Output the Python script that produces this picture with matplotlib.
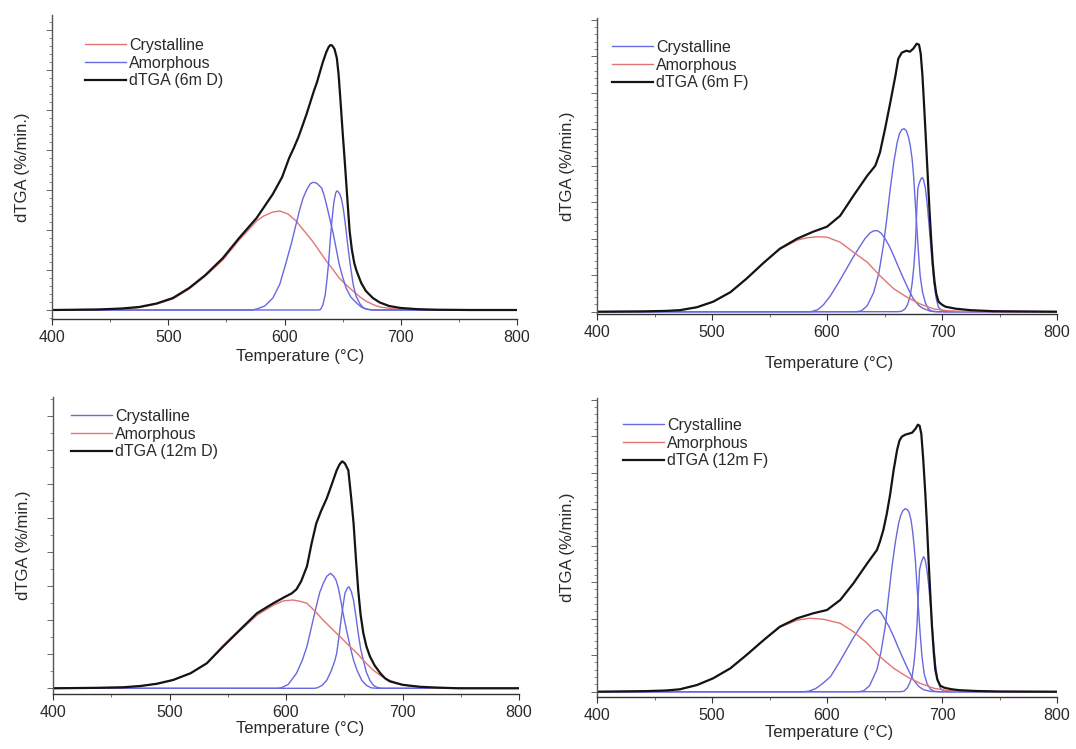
import matplotlib
matplotlib.use("Agg")
import matplotlib.pyplot as plt
from matplotlib.ticker import MultipleLocator, NullFormatter

plt.rcParams["font.family"] = ["Liberation Sans", "DejaVu Sans"]

W, H = 1076, 749

# ---- 6m D ----------------------------------------------------------------
p1_dtga_T = [400, 440, 460, 475, 490, 504, 518, 532, 547, 561, 576, 590, 598, 604, 608, 612,
             616, 619, 622, 625, 628, 630, 633, 636, 638, 639.5, 641, 643, 645, 646.5, 648,
             650, 652, 654, 656, 658, 660, 662, 666, 670, 676, 682, 690, 700, 715, 730, 760, 800]
p1_dtga_y = [0, 0.5, 1.5, 3, 6.5, 12, 22, 35, 52, 72, 92, 116, 133, 152, 162, 173,
             186, 196, 207, 218, 228, 236, 248, 258, 263, 265, 264.5, 261, 252, 236, 212,
             178, 146, 112, 79, 60, 47, 39, 27, 19, 12, 7.5, 4, 2, 0.8, 0.3, 0, 0]
p1_broad_T = [400, 460, 475, 490, 504, 518, 532, 547, 561, 576, 582, 590, 596, 603, 610, 617,
              624, 630, 636, 642, 647, 653, 659, 665, 670, 676, 682, 695, 720, 800]
p1_broad_y = [0, 1, 2.5, 6, 11, 21, 34, 50, 70, 89, 94, 98, 99, 96, 89, 79,
              69, 59, 49, 40, 32, 25, 19, 13, 9, 5.5, 3, 1, 0, 0]
p1_sharp1_T = [400, 572, 576, 583, 590, 596, 601, 606, 610, 613, 616, 619, 622, 624, 626, 628,
               632, 634, 636, 639, 642, 645, 647, 650, 653, 657, 662, 666, 670, 676, 800]
p1_sharp1_y = [0, 0, 1, 4, 12, 26, 46, 67, 86, 100, 112, 120, 126, 127.5, 127.5, 126.5,
               122, 115, 106, 91, 76, 58, 46, 33, 22, 13, 7, 3, 1, 0, 0]
p1_sharp2_T = [400, 629, 631, 633, 635, 636.5, 638, 639.5, 641, 642.5, 644, 645, 646, 647.5,
               649, 650.5, 652, 653.5, 655, 657, 659, 661.5, 665, 668, 672, 676, 800]
p1_sharp2_y = [0, 0, 0.5, 5, 15, 30, 48, 72, 92, 108, 117, 119, 118.5, 116,
               111, 102, 89, 74, 59, 42, 26, 14, 6, 2, 0.5, 0, 0]

# ---- 6m F ----------------------------------------------------------------
p2_dtga_T = [400, 440, 460, 472, 487, 501, 516, 530, 545, 559, 574, 588, 600, 611.5, 623, 635,
             642, 646, 650.5, 655, 659.5, 662, 665, 669, 672, 675, 678, 680, 681.5, 683, 684.5,
             686, 687.5, 689, 690.5, 692, 693.5, 695, 697, 700, 703, 712, 725, 745, 800]
p2_dtga_y = [0, 0.3, 0.8, 1.5, 4.5, 10, 19.5, 33, 49, 63, 73, 80, 85, 96, 116, 136,
             146, 159, 183, 209, 236, 253, 259, 261, 260, 263, 268, 267, 258, 236, 205,
             172, 138, 104, 74, 48, 30, 18, 10, 7, 5, 3, 1.5, 0.5, 0]
p2_broad_T = [400, 440, 460, 472, 487, 501, 516, 530, 545, 559, 574, 583, 592, 600, 611.5, 623,
              635, 646, 658, 669.5, 681, 693, 705, 720, 800]
p2_broad_y = [0, 0.3, 0.8, 1.5, 4.5, 10, 19.5, 33, 49, 62.5, 71.5, 74, 75, 74.5, 69.5, 59.5,
              49.5, 36, 23, 14.5, 7.7, 2.7, 1, 0.2, 0]
p2_sharp1_T = [400, 586, 592, 597, 603, 610, 617, 623, 629, 633, 637.6, 641, 644, 647, 650,
               654, 658, 662, 666.6, 671, 675, 680, 684, 690, 696, 800]
p2_sharp1_y = [0, 0, 2, 7, 16, 29, 43, 55, 66, 73, 79, 81, 81, 78.5, 74,
               66, 56, 45, 33, 22, 13, 6, 3, 0.5, 0, 0]
p2_sharp2_T = [400, 626, 630, 635, 640.5, 645, 649, 652, 655, 658, 661, 663, 665, 667, 669,
               671, 672.4, 674, 675.3, 676.7, 678.2, 679.6, 681, 683, 685.5, 688, 691, 695, 800]
p2_sharp2_y = [0, 0, 1, 6, 19, 38, 66, 93, 123, 149, 169, 178, 182, 183, 181,
               174, 166, 153, 136, 110, 83, 58, 36, 20, 9, 3, 0.5, 0, 0]
p2_sharp3_T = [400, 662, 665, 668, 670, 672.4, 674, 675.5, 676.8, 678, 679, 680, 681, 682,
               683, 684, 685.5, 687, 688.5, 690, 691.5, 693, 695, 697, 700, 703, 800]
p2_sharp3_y = [0, 0, 0.5, 3, 7, 16, 28, 45, 66, 100, 123, 128, 131, 133.5,
               134, 131.5, 124, 109, 90, 69, 48, 29, 13, 4.4, 1, 0, 0]

# ---- 12m D ---------------------------------------------------------------
p3_dtga_T = [400, 440, 460, 475, 489, 503, 518, 532, 546, 560, 575, 589, 600, 605, 609, 613,
             618, 622, 626, 630, 635, 639, 643.5, 646, 648.3, 650.5, 653.5, 656, 658, 660, 662,
             664, 666.4, 669, 672, 676, 681, 685, 689, 700, 715, 730, 748, 800]
p3_dtga_y = [0, 0.5, 1, 2.3, 4.5, 8.3, 15, 25, 42, 58, 75, 85, 92, 95, 99, 107,
             122, 145, 165, 177, 190, 203, 218, 224, 227, 225, 218, 190, 165, 130, 98,
             74, 55, 42, 32, 23, 15, 10, 7, 3.5, 1.5, 0.7, 0, 0]
p3_broad_T = [400, 460, 475, 489, 503, 518, 532, 546, 560, 575, 589, 598, 606, 612, 618, 625,
              632, 639, 646, 653, 661, 668, 675, 682, 689, 697, 705, 725, 800]
p3_broad_y = [0, 1, 2.3, 4.5, 8.3, 15, 25, 41, 57, 73, 83, 87.5, 88.3, 87, 85, 77,
              68, 60, 52, 44, 35, 26, 18, 12, 8, 4.5, 2.5, 0.5, 0]
p3_sharp1_T = [400, 593, 596, 602, 609, 614, 618, 622, 626, 629, 632, 635, 638.3, 641, 643,
               645, 647, 649, 652, 655, 658, 661, 665, 669, 673, 678, 800]
p3_sharp1_y = [0, 0, 0.5, 4, 15, 28, 42, 62, 82, 96, 105, 112, 115, 112, 108,
               100, 88, 75, 58, 42, 28, 18, 8, 3, 0.5, 0, 0]
p3_sharp2_T = [400, 624, 627, 631, 635, 639, 642, 643.5, 645.5, 648, 650.6, 652.5, 654, 656,
               658, 660, 662, 664, 666.4, 669, 672, 675, 678, 682, 800]
p3_sharp2_y = [0, 0, 0.5, 3, 8, 18, 28, 35, 52, 75, 95, 100, 101.6, 97,
               88, 72, 55, 40, 28, 16, 8, 3, 1, 0, 0]

# ---- 12m F ---------------------------------------------------------------
p4_dtga_T = [400, 440, 460, 472, 487, 501, 516, 530, 545, 559, 574, 588, 600, 611.5, 623, 635,
             643.4, 646, 649, 652, 655, 658, 661, 663, 665, 668, 671, 674, 677, 679, 680.5,
             682, 683.7, 685.5, 687, 688.3, 689.8, 691.3, 692.8, 694.2, 696, 698.5, 702, 708,
             715, 730, 750, 800]
p4_dtga_y = [0, 0.5, 1.2, 2.4, 6.7, 13.4, 23.4, 36.7, 51.7, 65, 73.4, 78.4, 81.7, 91.7, 108.4, 128.4,
             141.7, 150, 161.7, 178, 198, 222, 242, 251, 255, 257, 258, 259, 263, 267, 266,
             258, 232, 198, 165, 132, 98, 65, 40, 22, 12, 6, 4, 2.5,
             1.5, 0.7, 0.2, 0]
p4_broad_T = [400, 440, 460, 472, 487, 501, 516, 530, 545, 559, 574, 585, 597, 611.5, 623, 635,
              646, 658, 669.5, 681, 693, 705, 720, 800]
p4_broad_y = [0, 0.5, 1.2, 2.4, 6.7, 13.4, 23.4, 36.7, 51.7, 64.5, 71.5, 73.5, 72.4, 68.4, 60, 48.4,
              35, 23.4, 15, 8.4, 3.4, 1, 0.2, 0]
p4_sharp1_T = [400, 580, 584, 590, 596, 603, 610, 617, 623, 629, 633, 637.6, 641, 644, 647,
               650, 654, 658, 662, 666.6, 671, 675, 680, 684, 690, 696, 800]
p4_sharp1_y = [0, 0, 0.5, 3, 8, 15, 28, 42, 54, 65, 72, 78, 81, 82, 79,
               73, 65, 55, 44, 32, 21, 12, 5, 2, 0.3, 0, 0]
p4_sharp2_T = [400, 628, 632, 637, 643.4, 647, 650.6, 653.5, 656.5, 659.5, 662.2, 664, 666, 668,
               670, 671.5, 673, 674.5, 675.8, 676.8, 678.2, 679.6, 681, 682.6, 684.5, 687, 690,
               693, 697, 800]
p4_sharp2_y = [0, 0, 1, 6, 22, 40, 65, 95, 125, 150, 168, 176, 181, 183,
               182, 179, 172, 160, 145, 132, 107, 82, 58, 35, 18, 8, 2.5,
               0.5, 0, 0]
p4_sharp3_T = [400, 664, 667, 670, 672, 674, 675.8, 677, 678.2, 679.3, 680.5, 681.5, 682.5, 684,
               685, 686, 687.2, 688.3, 689.8, 691.3, 692.8, 694.2, 696, 698.5, 702, 705, 800]
p4_sharp3_y = [0, 0, 0.5, 4, 9, 15, 30, 45, 65, 95, 122, 127, 131, 135,
               133, 128, 119, 108, 89, 68, 47, 28, 13, 3.4, 0.5, 0, 0]

x_ticks = [400, 500, 600, 700, 800]

BLACK = "#141414"
BLUE = "#6868e0"
RED = "#e47474"

fig = plt.figure(figsize=(W / 100, H / 100), dpi=100)
fig.patch.set_facecolor("white")


def make_axes(left, right, top, bottom):
    return fig.add_axes([left / W, 1 - bottom / H, (right - left) / W, (bottom - top) / H])


def style(ax, ylim, ymaj, ymin, ylab_x, xlab_xy):
    ax.set_xlim(400, 800)
    ax.set_ylim(*ylim)
    for s in ("top", "right"):
        ax.spines[s].set_visible(False)
    ax.spines["left"].set_color("#555555")
    ax.spines["bottom"].set_color("#333333")
    ax.spines["left"].set_linewidth(1.0)
    ax.spines["bottom"].set_linewidth(1.0)
    ax.set_xticks(x_ticks)
    ax.xaxis.set_minor_locator(MultipleLocator(50))
    ax.yaxis.set_major_locator(MultipleLocator(ymaj))
    ax.yaxis.set_minor_locator(MultipleLocator(ymin))
    ax.yaxis.set_major_formatter(NullFormatter())
    ax.tick_params(axis="x", which="major", direction="out", length=4, width=0.8,
                   labelsize=11.5, pad=4, colors="#333333", labelcolor="#2a2a2a")
    ax.tick_params(axis="x", which="minor", direction="out", length=2.5, width=0.6, colors="#555555")
    ax.tick_params(axis="y", which="major", direction="out", length=4, width=0.7, colors="#666666")
    ax.tick_params(axis="y", which="minor", direction="out", length=2.5, width=0.6, colors="#777777")
    ax.set_xlabel("Temperature (°C)", fontsize=12, color="#2a2a2a")
    ax.set_ylabel("dTGA (%/min.)", fontsize=12, color="#2a2a2a")
    ax.yaxis.set_label_coords(ylab_x, 0.5)
    ax.xaxis.set_label_coords(*xlab_xy)


def legend(ax, handles, labels, x, y):
    ax.legend(handles, labels, loc="upper left", bbox_to_anchor=(x / W, 1 - y / H),
              bbox_transform=fig.transFigure, frameon=False, fontsize=11.5,
              handlelength=2.55, handletextpad=0.2, labelspacing=0.17,
              borderpad=0, borderaxespad=0, labelcolor="#2a2a2a")


# Panel 6m D
ax1 = make_axes(52, 517, 15, 319)
r, = ax1.plot(p1_broad_T, p1_broad_y, color=RED, lw=1.0)
b, = ax1.plot(p1_sharp1_T, p1_sharp1_y, color=BLUE, lw=1.0)
ax1.plot(p1_sharp2_T, p1_sharp2_y, color=BLUE, lw=1.0)
k, = ax1.plot(p1_dtga_T, p1_dtga_y, color=BLACK, lw=1.6)
style(ax1, (-9, 295), 40, 8, -0.047, (0.533, -0.099))
legend(ax1, [r, b, k], ["Crystalline", "Amorphous", "dTGA (6m D)"], 85, 38)

# Panel 6m F
ax2 = make_axes(597, 1057, 18, 314)
b, = ax2.plot(p2_sharp1_T, p2_sharp1_y, color=BLUE, lw=1.0)
ax2.plot(p2_sharp2_T, p2_sharp2_y, color=BLUE, lw=1.0)
ax2.plot(p2_sharp3_T, p2_sharp3_y, color=BLUE, lw=1.0)
r, = ax2.plot(p2_broad_T, p2_broad_y, color=RED, lw=1.0)
k, = ax2.plot(p2_dtga_T, p2_dtga_y, color=BLACK, lw=1.6)
style(ax2, (-2.3, 293.7), 36.5, 7.3, -0.048, (0.504, -0.143))
legend(ax2, [b, r, k], ["Crystalline", "Amorphous", "dTGA (6m F)"], 612, 40)

# Panel 12m D
ax3 = make_axes(53, 519, 397, 694)
b, = ax3.plot(p3_sharp1_T, p3_sharp1_y, color=BLUE, lw=1.0)
ax3.plot(p3_sharp2_T, p3_sharp2_y, color=BLUE, lw=1.0)
r, = ax3.plot(p3_broad_T, p3_broad_y, color=RED, lw=1.0)
k, = ax3.plot(p3_dtga_T, p3_dtga_y, color=BLACK, lw=1.6)
style(ax3, (-5.7, 291.3), 34, 17, -0.047, (0.530, -0.091))
legend(ax3, [b, r, k], ["Crystalline", "Amorphous", "dTGA (12m D)"], 71, 409)

# Panel 12m F
ax4 = make_axes(597, 1057, 398, 697)
b, = ax4.plot(p4_sharp1_T, p4_sharp1_y, color=BLUE, lw=1.0)
ax4.plot(p4_sharp2_T, p4_sharp2_y, color=BLUE, lw=1.0)
ax4.plot(p4_sharp3_T, p4_sharp3_y, color=BLUE, lw=1.0)
r, = ax4.plot(p4_broad_T, p4_broad_y, color=RED, lw=1.0)
k, = ax4.plot(p4_dtga_T, p4_dtga_y, color=BLACK, lw=1.6)
style(ax4, (-5.3, 293.7), 36.5, 7.3, -0.048, (0.504, -0.094))
legend(ax4, [b, r, k], ["Crystalline", "Amorphous", "dTGA (12m F)"], 623, 418)

fig.savefig("out.png", dpi=100, facecolor="white")
